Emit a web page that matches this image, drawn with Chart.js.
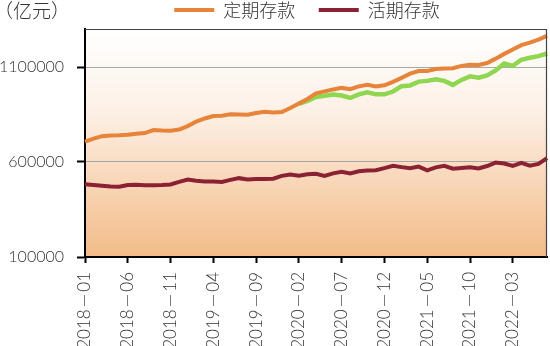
<!DOCTYPE html>
<html><head><meta charset="utf-8">
<script src="https://cdn.jsdelivr.net/npm/chart.js@4/dist/chart.umd.min.js"></script>
<style>html,body{margin:0;padding:0;background:#fff}canvas{display:block}</style>
</head><body>
<canvas id="c" width="550" height="346"></canvas>
<script>
const months = [
 '2018—01','2018—02','2018—03','2018—04','2018—05','2018—06','2018—07','2018—08','2018—09','2018—10','2018—11','2018—12',
 '2019—01','2019—02','2019—03','2019—04','2019—05','2019—06','2019—07','2019—08','2019—09','2019—10','2019—11','2019—12',
 '2020—01','2020—02','2020—03','2020—04','2020—05','2020—06','2020—07','2020—08','2020—09','2020—10','2020—11','2020—12',
 '2021—01','2021—02','2021—03','2021—04','2021—05','2021—06','2021—07','2021—08','2021—09','2021—10','2021—11','2021—12',
 '2022—01','2022—02','2022—03','2022—04','2022—05','2022—06','2022—07'];
const timeDeposits = [707000,723000,736000,740000,741000,744000,749000,752000,768000,766000,
 765000,771000,789000,813000,829000,842000,844000,851000,850000,849000,
 858000,864000,860000,863000,884000,908000,932000,961000,972000,982000,
 990000,983000,998000,1006000,998000,1004000,1022000,1043000,1065000,1079000,
 1079000,1089000,1092000,1094000,1106000,1112000,1111000,1121000,1144000,1169000,
 1192000,1215000,1228000,1244000,1264000];
const demandDeposits = [483000,479000,475000,471000,470000,479000,480000,478000,478000,479000,
 482000,495000,508000,501000,498000,498000,495000,506000,515000,508000,
 511000,511000,512000,527000,534000,528000,535000,538000,527000,540000,
 548000,540000,551000,555000,557000,568000,580000,573000,567000,576000,
 556000,572000,580000,565000,568000,572000,566000,579000,597000,592000,
 579000,596000,581000,590000,620000];
const timeTrend = [null,null,null,null,null,null,null,null,null,null,
 null,null,null,null,null,null,null,null,null,null,
 null,null,null,null,null,906000,921000,942000,949000,955000,
 950000,937000,956000,967000,956000,956000,971000,999000,1003000,1023000,
 1027000,1035000,1027000,1006000,1032000,1051000,1044000,1056000,1082000,1118000,
 1106000,1138000,1149000,1157000,1171000];
const yTicks = [100000, 600000, 1100000];
const seriesNames = ['定期存款', '活期存款'];
const unitLabel = '（亿元）';

const bgPlugin = {
  id: 'bg',
  beforeDraw(chart) {
    const {ctx, chartArea: a} = chart;
    const g = ctx.createLinearGradient(0, a.top, 0, a.bottom);
    g.addColorStop(0, '#ffffff');
    g.addColorStop(0.35, '#fdf1e7');
    g.addColorStop(1, '#f3bb88');
    ctx.save();
    ctx.fillStyle = g;
    ctx.fillRect(a.left, a.top, a.right - a.left, a.bottom - a.top);
    ctx.restore();
  },
  afterDraw(chart) {
    const {ctx, chartArea: a} = chart;
    ctx.save();
    ctx.strokeStyle = '#444';
    ctx.lineWidth = 1.2;
    ctx.beginPath();
    ctx.moveTo(a.left, a.top + 0.5);
    ctx.lineTo(a.right - 0.5, a.top + 0.5);
    ctx.lineTo(a.right - 0.5, a.bottom);
    ctx.stroke();
    ctx.fillStyle = '#333';
    ctx.font = '300 19px "Noto Sans CJK SC", sans-serif';
    ctx.textBaseline = 'middle';
    ctx.textAlign = 'left';
    ctx.fillText(unitLabel, -6, 11);
    ctx.restore();
  }
};

new Chart(document.getElementById('c'), {
  type: 'line',
  data: {
    labels: months,
    datasets: [
      {label: seriesNames[0], data: timeDeposits, borderColor: '#e8833a', backgroundColor: '#e8833a', borderWidth: 4, pointRadius: 0, tension: 0, order: 1},
      {label: seriesNames[1], data: demandDeposits, borderColor: '#8b2234', backgroundColor: '#8b2234', borderWidth: 4, pointRadius: 0, tension: 0, order: 2},
      {label: 'trend', data: timeTrend, borderColor: '#8fd651', backgroundColor: '#8fd651', borderWidth: 4.5, pointRadius: 0, tension: 0, order: 3}
    ]
  },
  options: {
    responsive: false,
    animation: false,
    devicePixelRatio: 1,
    layout: {padding: {right: 3, top: 0, left: 0, bottom: 0}},
    plugins: {
      tooltip: {enabled: false},
      legend: {
        fullSize: false,
        labels: {
          padding: 1,
          boxWidth: 40,
          boxHeight: 4,
          color: '#333',
          font: {size: 18, weight: 300, family: '"Noto Sans CJK SC", sans-serif'},
          filter: (item) => item.datasetIndex !== 2,
          generateLabels: (chart) => {
            const items = Chart.defaults.plugins.legend.labels.generateLabels(chart);
            items.forEach((it, i) => { it.lineWidth = 0; it.text = it.text + (i === 0 ? '\u2003\u2005' : '\u2003'); });
            return items;
          }
        }
      }
    },
    scales: {
      x: {
        offset: false,
        afterFit: (s) => { s.height = 89; },
        border: {color: '#000', width: 2},
        grid: {drawOnChartArea: false, tickLength: 6, tickColor: '#000', tickWidth: 2},
        ticks: {
          autoSkip: false, minRotation: 90, maxRotation: 90, padding: 9,
          color: '#333', font: {size: 17, weight: 300, family: 'Lato, "Noto Sans CJK SC", sans-serif'},
          callback: function(v, i) { return i % 5 === 0 ? months[i].replace('—', '\u2009—\u2009') : null; }
        }
      },
      y: {
        min: 100000, max: 1300000,
        afterFit: (s) => { s.width = 85; },
        afterBuildTicks: (s) => { s.ticks = yTicks.map(v => ({value: v})); },
        border: {color: '#000', width: 2},
        grid: {color: '#a8a8a8', lineWidth: 1, tickLength: 8, tickColor: '#000', tickWidth: 2},
        ticks: {padding: 13, color: '#333', font: {size: 16, weight: 300, family: 'Lato, sans-serif'},
          callback: (v) => String(v)}
      }
    }
  },
  plugins: [bgPlugin]
});
</script>
</body></html>
